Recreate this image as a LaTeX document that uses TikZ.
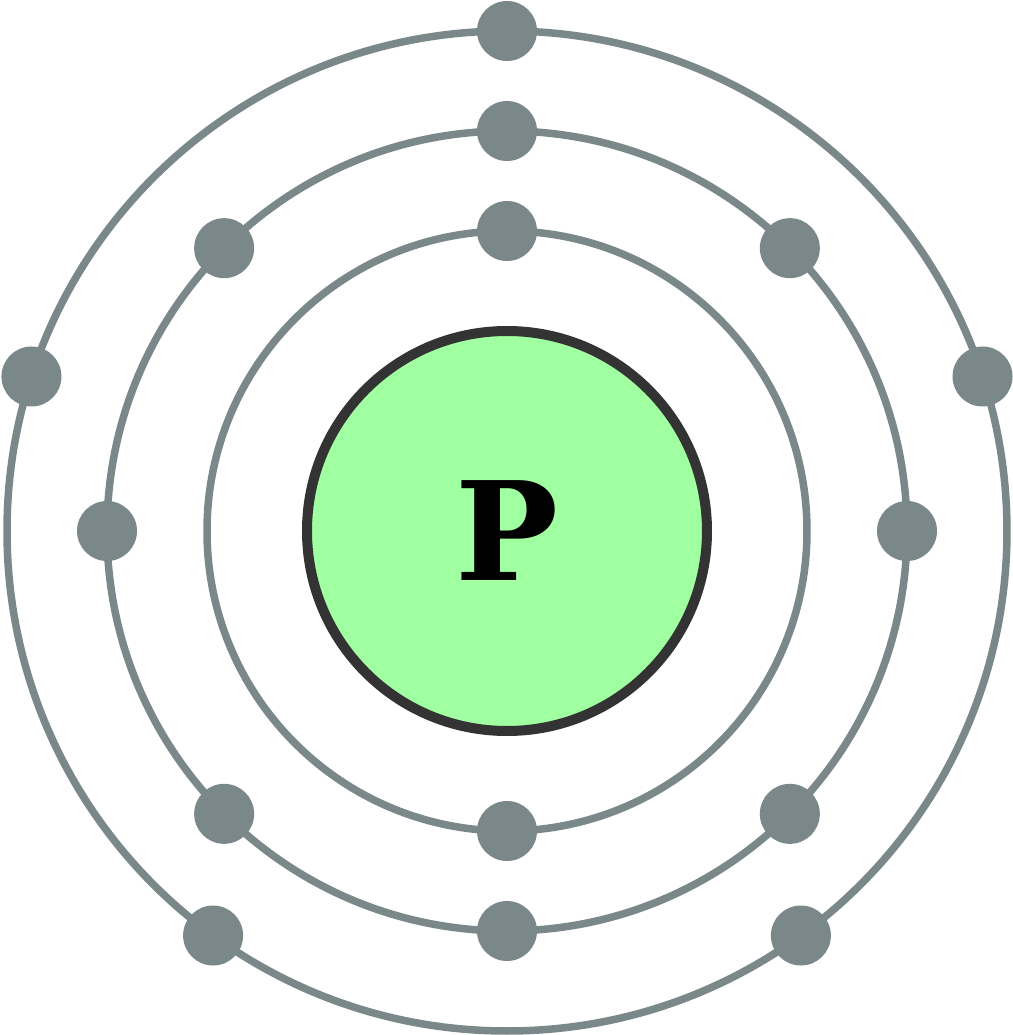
\documentclass[tikz,border=0pt]{standalone}
\usepackage{fontspec}
\setmainfont{DejaVu Serif}
\usepackage{tikz}
\definecolor{shellgray}{HTML}{7A888A}
\definecolor{nucgreen}{HTML}{A0FFA0}
\definecolor{nucedge}{HTML}{333333}
\tikzset{
	shell/.style={line width=0.075cm, color=shellgray},
	electron/.style={fill=shellgray},
}

\begin{document}
\begin{tikzpicture}
			%%%%% START %%%%%
			\useasboundingbox (0, 0) rectangle (10.13, 10.35);
			
			\begin{scope}[shift={(5.07, 5.04)}]
			
			% shells
			\draw[shell] (0, 0) circle (3.0);
			\draw[shell] (0, 0) circle (4.0);
			\draw[shell] (0, 0) circle (5.0);
			
			% nucleus
			\draw[line width=0.1cm, color=nucedge, fill=nucgreen] (0, 0) circle (2.0);
			\node (symbol) at (0, 0) {\fontsize{39}{39}\selectfont\bfseries P};
			
			% first shell
			\fill[electron] (90:3) circle (0.3);
			\fill[electron] (270:3) circle (0.3);
			
			% second shell
			\fill[electron] (0:4) circle (0.3);
			\fill[electron] (45:4) circle (0.3);
			\fill[electron] (90:4) circle (0.3);
			\fill[electron] (135:4) circle (0.3);
			\fill[electron] (180:4) circle (0.3);
			\fill[electron] (225:4) circle (0.3);
			\fill[electron] (270:4) circle (0.3);
			\fill[electron] (315:4) circle (0.3);
			
			% third shell
			\fill[electron] (18:5) circle (0.3);
			\fill[electron] (90:5) circle (0.3);
			\fill[electron] (162:5) circle (0.3);
			\fill[electron] (234:5) circle (0.3);
			\fill[electron] (306:5) circle (0.3);
			
			\end{scope}
			
			%%%%% END %%%%%
\end{tikzpicture}
\end{document}
